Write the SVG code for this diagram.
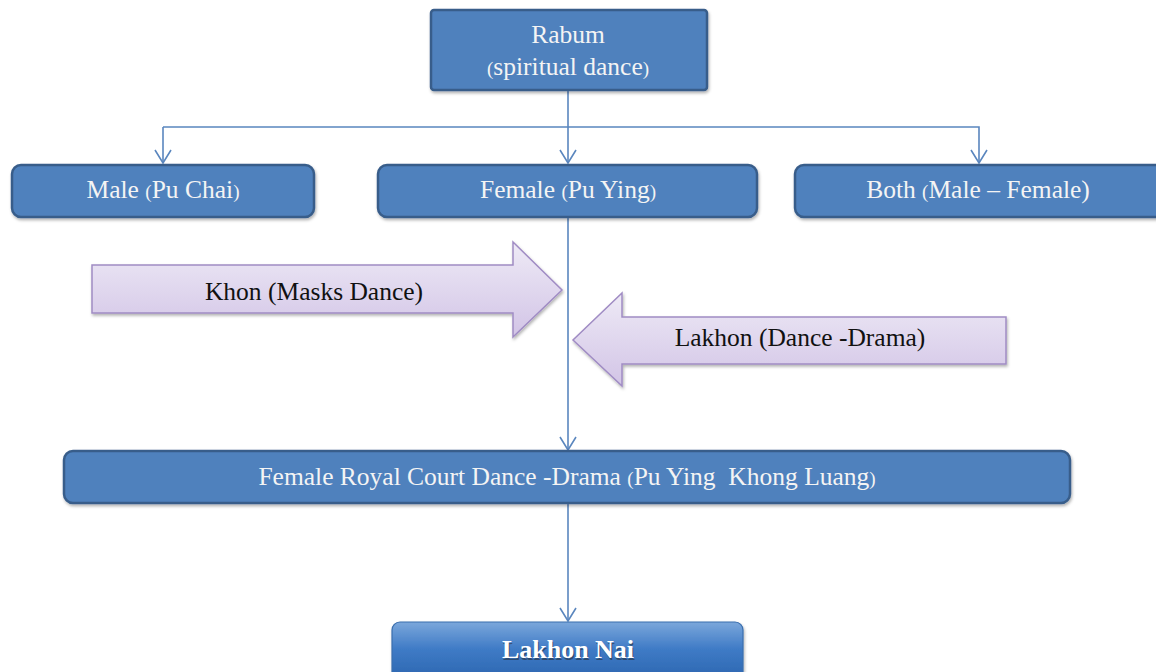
<svg xmlns="http://www.w3.org/2000/svg" width="1156" height="672" viewBox="0 0 1156 672">
<defs>
<style>
.box{fill:#4F81BD;stroke:#385D8A;stroke-width:2.5}
.t{font-family:"Liberation Serif",serif;font-size:25.5px;fill:#F4F4F4;text-anchor:middle}
.p{font-size:19px}
.k{font-family:"Liberation Serif",serif;font-size:25.5px;fill:#111;text-anchor:middle}
.conn{fill:none;stroke:#5A86BE;stroke-width:1.6}
.big{fill:url(#lav);stroke:#A08CC4;stroke-width:1.5}
</style>
<linearGradient id="lav" x1="0" y1="0" x2="0" y2="1">
<stop offset="0" stop-color="#EEEAF6"/>
<stop offset="1" stop-color="#D2C4E6"/>
</linearGradient>
<linearGradient id="gloss" x1="0" y1="0" x2="0" y2="1">
<stop offset="0" stop-color="#7BA7DB"/>
<stop offset="0.45" stop-color="#3F7BC6"/>
<stop offset="1" stop-color="#2A64AE"/>
</linearGradient>
<filter id="sh" x="-5%" y="-10%" width="110%" height="130%">
<feDropShadow dx="1" dy="2" stdDeviation="1.5" flood-color="#000" flood-opacity="0.3"/>
</filter>
<marker id="v" viewBox="0 0 16 18" refX="15" refY="9" markerWidth="16" markerHeight="18" markerUnits="userSpaceOnUse" orient="auto">
<path d="M2,1 L15,9 L2,17" fill="none" stroke="#5A86BE" stroke-width="1.6"/>
</marker>
</defs>
<g id="connectors">
<path class="conn" d="M568,90 V163" marker-end="url(#v)"/>
<path class="conn" d="M163,127 H979 V163" marker-end="url(#v)"/>
<path class="conn" d="M163,127 V163" marker-end="url(#v)"/>
<path class="conn" d="M568,217 V450" marker-end="url(#v)"/>
<path class="conn" d="M568,503 V621" marker-end="url(#v)"/>
</g>
<g id="rabum">
<rect class="box" x="431" y="10" width="276" height="80" rx="3" filter="url(#sh)"/>
<text class="t" x="568" y="43">Rabum</text>
<text class="t" x="568" y="75"><tspan class="p">(</tspan>spiritual dance<tspan class="p">)</tspan></text>
</g>
<g id="male">
<rect class="box" x="12" y="165" width="302" height="52" rx="9" filter="url(#sh)"/>
<text class="t" x="163" y="198">Male <tspan class="p">(</tspan>Pu Chai<tspan class="p">)</tspan></text>
</g>
<g id="female">
<rect class="box" x="378" y="165" width="379" height="52" rx="9" filter="url(#sh)"/>
<text class="t" x="568" y="198">Female <tspan class="p">(</tspan>Pu Ying<tspan class="p">)</tspan></text>
</g>
<g id="both">
<rect class="box" x="795" y="165" width="370" height="52" rx="9" filter="url(#sh)"/>
<text class="t" x="978" y="198">Both <tspan class="p">(</tspan>Male – Female)</text>
</g>
<g id="khon">
<path class="big" d="M92,265 H513 V242 L562,290 L513,337 V313 H92 Z" filter="url(#sh)"/>
<text class="k" x="314" y="300">Khon (Masks Dance)</text>
</g>
<g id="lakhon">
<path class="big" d="M1006,317 H622 V293 L573,340 L622,386 V364 H1006 Z" filter="url(#sh)"/>
<text class="k" x="800" y="346">Lakhon (Dance -Drama)</text>
</g>
<g id="royal">
<rect class="box" x="64" y="451" width="1006" height="52" rx="9" filter="url(#sh)"/>
<text class="t" x="567" y="485" xml:space="preserve">Female Royal Court Dance -Drama <tspan class="p">(</tspan>Pu Ying  Khong Luang<tspan class="p">)</tspan></text>
</g>
<g id="lakhonnai">
<rect x="392" y="622" width="351" height="60" rx="8" fill="url(#gloss)" stroke="#3A6EAE" stroke-width="1.2" filter="url(#sh)"/>
<text x="568" y="658" font-family="Liberation Serif,serif" font-size="26" font-weight="bold" fill="#222" fill-opacity="0.5" text-anchor="middle" transform="translate(1,1.5)">Lakhon Nai</text>
<text x="568" y="658" font-family="Liberation Serif,serif" font-size="26" font-weight="bold" fill="#FFFFFF" text-anchor="middle">Lakhon Nai</text>
</g>
</svg>
